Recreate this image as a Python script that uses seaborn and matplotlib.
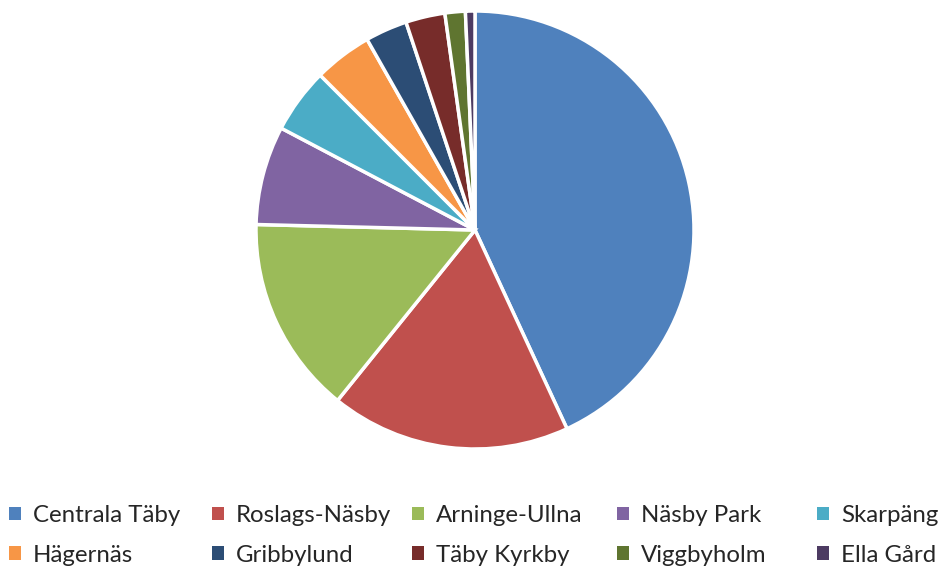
import matplotlib.pyplot as plt
from matplotlib.patches import Patch
import seaborn as sns

# share of each area (percent)
areas = ["Centrala Täby", "Roslags-Näsby", "Arninge-Ullna", "Näsby Park", "Skarpäng",
         "Hägernäs", "Gribbylund", "Täby Kyrkby", "Viggbyholm", "Ella Gård"]
shares = [43.1, 17.7, 14.6, 7.3, 4.8, 4.3, 3.1, 2.9, 1.5, 0.7]
colors = ["#4F81BD", "#C0504D", "#9BBB59", "#8064A2", "#4BACC6",
          "#F79646", "#2C4D75", "#772C2A", "#5F7530", "#4D3B62"]

sns.set_theme(style="white", palette=colors)
plt.rcParams["font.family"] = ["Lato", "DejaVu Sans"]

W, H = 942, 566
fig = plt.figure(figsize=(W / 100, H / 100), dpi=100)

# pie: centre ~ (475, 230) px, radius ~219 px
cx, cy, r = 475, 230, 219
ax = fig.add_axes([(cx - r) / W, (H - cy - r) / H, 2 * r / W, 2 * r / H])
ax.pie(shares, colors=sns.color_palette(colors), startangle=90, counterclock=False,
       wedgeprops=dict(edgecolor="white", linewidth=2.5))
ax.set_xlim(-1, 1)
ax.set_ylim(-1, 1)
ax.set_aspect("equal")
ax.axis("off")

# legend: 5 columns x 2 rows, laid out like the Excel legend
col_x = [9, 212, 412, 617, 817]
for c in range(5):
    idx = [c, c + 5]
    handles = [Patch(facecolor=colors[i], edgecolor="none") for i in idx]
    fig.legend(handles, [areas[i] for i in idx], loc="upper left",
               bbox_to_anchor=(col_x[c] / W, 1 - 505 / H), frameon=False,
               fontsize=17.3, handlelength=0.5, handleheight=0.5, handletextpad=0.5,
               labelspacing=0.78, borderaxespad=0, borderpad=0)

fig.savefig("out.png", dpi=100)
